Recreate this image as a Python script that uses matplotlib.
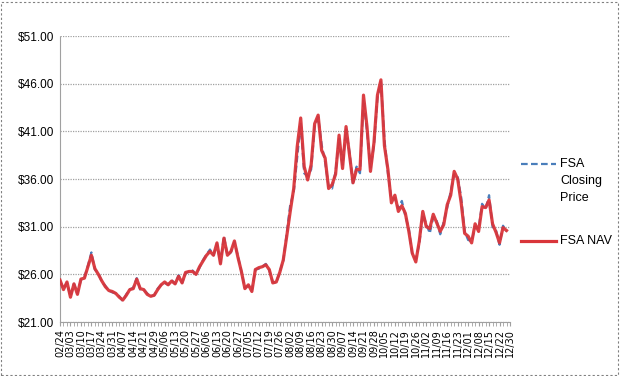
import matplotlib
matplotlib.use("Agg")
import matplotlib.pyplot as plt
from matplotlib.lines import Line2D
from matplotlib.patches import Rectangle

tick_labels = ["02/24", "03/03", "03/10", "03/17", "03/24", "03/31", "04/07", "04/14",
               "04/21", "04/29", "05/06", "05/13", "05/20", "05/27", "06/06", "06/13",
               "06/20", "06/27", "07/05", "07/12", "07/19", "07/26", "08/02", "08/09",
               "08/16", "08/23", "08/30", "09/07", "09/14", "09/21", "09/28", "10/05",
               "10/12", "10/19", "10/26", "11/02", "11/09", "11/16", "11/23", "12/01",
               "12/08", "12/15", "12/22", "12/30"]

nav = [25.4, 24.4, 25.2, 23.6, 25.0, 23.9, 25.5, 25.6, 26.8, 28.0,
       26.6, 26.0, 25.3, 24.7, 24.3, 24.2, 24.0, 23.6, 23.3, 23.8,
       24.4, 24.5, 25.5, 24.5, 24.4, 23.9, 23.7, 23.8, 24.4, 24.9,
       25.2, 24.9, 25.3, 25.0, 25.8, 25.1, 26.2, 26.3, 26.3, 26.0,
       26.8, 27.4, 28.0, 28.4, 28.0, 29.3, 27.1, 29.8, 28.0, 28.4,
       29.5, 27.8, 26.3, 24.5, 24.9, 24.2, 26.5, 26.7, 26.8, 27.0,
       26.5, 25.1, 25.2, 26.2, 27.5, 30.0, 32.6, 35.0, 39.4, 42.4,
       37.3, 35.9, 37.5, 41.8, 42.7, 39.0, 38.2, 35.0, 35.4, 36.5,
       40.6, 37.1, 41.5, 38.5, 35.6, 37.0, 37.0, 44.8, 41.5, 36.8,
       39.8, 44.8, 46.4, 39.5, 37.0, 33.5, 34.3, 32.6, 33.2, 32.4,
       30.5, 28.2, 27.3, 29.5, 32.6, 31.0, 30.8, 32.3, 31.4, 30.5,
       31.2, 33.3, 34.3, 36.8, 36.0, 33.5, 30.3, 30.0, 29.3, 31.3,
       30.5, 33.1, 33.0, 33.8, 31.3, 30.4, 29.3, 30.9, 30.6]

closing = [25.3, 24.5, 25.1, 23.7, 25.0, 24.0, 25.4, 25.7, 26.9, 28.3,
           26.5, 26.1, 25.2, 24.8, 24.3, 24.1, 24.0, 23.7, 23.2, 23.9,
           24.4, 24.6, 25.6, 24.4, 24.4, 24.0, 23.7, 23.8, 24.5, 24.9,
           25.1, 24.9, 25.4, 25.0, 25.9, 25.1, 26.1, 26.3, 26.4, 26.0,
           26.7, 27.5, 28.1, 28.6, 28.0, 29.2, 27.2, 30.0, 28.0, 28.3,
           29.4, 27.9, 26.3, 24.6, 24.8, 24.3, 26.5, 26.6, 26.8, 27.1,
           26.4, 25.2, 25.1, 26.3, 27.4, 30.3, 33.3, 34.6, 38.2, 41.9,
           36.6, 36.3, 37.0, 41.5, 42.5, 39.6, 37.8, 35.2, 35.0, 36.8,
           40.2, 37.5, 41.2, 38.8, 35.4, 37.3, 36.6, 44.3, 41.0, 37.2,
           39.5, 44.5, 46.2, 40.2, 36.6, 33.9, 34.0, 32.9, 33.7, 32.1,
           30.8, 28.0, 27.6, 29.2, 32.3, 31.3, 30.3, 32.0, 31.6, 30.2,
           31.5, 33.0, 34.7, 36.5, 36.2, 34.1, 30.5, 29.6, 29.5, 31.0,
           30.8, 33.4, 32.8, 34.3, 31.0, 30.6, 29.1, 31.1, 30.5]

yticks = [21, 26, 31, 36, 41, 46, 51]

W, H = 620, 376
fig = plt.figure(figsize=(W / 100, H / 100), dpi=100)
ax = fig.add_axes([60 / W, 1 - 322 / H, 450 / W, 286 / H])

x = list(range(len(nav)))
ax.plot(x, closing, color="#4A7EBB", lw=1.6, ls=(0, (3, 1.5)), zorder=3)
ax.plot(x, nav, color="#D9353A", lw=2.3, zorder=4, alpha=0.95)

ax.set_ylim(21, 51)
ax.set_xlim(0, 129)
ax.set_yticks(yticks)
ax.set_yticklabels([f"${v:.2f}" for v in yticks], fontsize=8.5, family="Liberation Sans")
ax.set_xticks(list(range(0, 130, 3)))
ax.set_xticklabels(tick_labels, rotation=90, fontsize=7, family="DejaVu Sans")
ax.set_xticks(list(range(0, 130)), minor=True)
ax.tick_params(axis="x", which="both", length=3, color="#A0A0A0", pad=2)
ax.tick_params(axis="y", length=0, pad=4)
ax.grid(axis="y", color="#A0A0A0", ls=(0, (1, 1)), lw=0.9)
for s in ["top", "right"]:
    ax.spines[s].set_visible(False)
ax.spines["left"].set_color("#A0A0A0")
ax.spines["left"].set_linestyle((0, (1, 1)))
ax.spines["bottom"].set_color("#A0A0A0")

# legend
fig.add_artist(Line2D([521 / W, 556 / W], [1 - 164 / H, 1 - 164 / H], color="#4A7EBB",
                      lw=1.6, ls=(0, (3, 1.5))))
fig.add_artist(Line2D([521 / W, 556 / W], [1 - 241 / H, 1 - 241 / H], color="#D9353A", lw=2.3))
fig.text(560 / W, 1 - 164 / H, "FSA", fontsize=9, family="Liberation Sans", va="center")
fig.text(560 / W, 1 - 181 / H, "Closing", fontsize=9, family="Liberation Sans", va="center")
fig.text(560 / W, 1 - 198 / H, "Price", fontsize=9, family="Liberation Sans", va="center")
fig.text(560 / W, 1 - 241 / H, "FSA NAV", fontsize=9, family="Liberation Sans", va="center")

fig.add_artist(Rectangle((1 / W, 1 / H), 617 / W, 373 / H, fill=False, ec="#808080",
                         lw=0.8, ls=(0, (2, 2)), transform=fig.transFigure))

fig.savefig("out.png", dpi=100)
